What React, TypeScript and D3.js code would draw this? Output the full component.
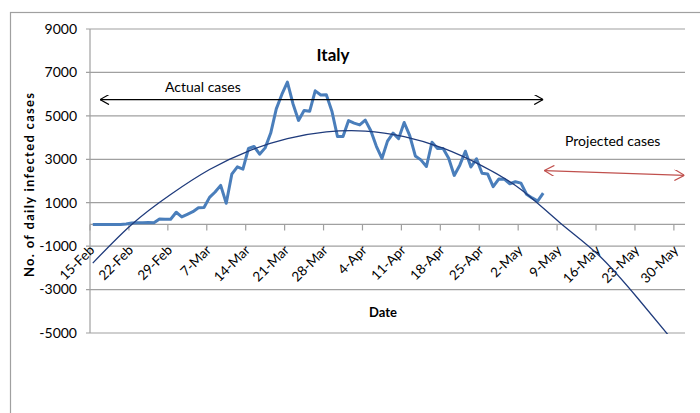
import * as d3 from "d3";

// daily new cases, Italy, from 15-Feb (one value per day)
const cases = [
  0, 0, 0, 0, 0, 0, 17, 62, 76, 72, 93, 78, 250, 238, 240,
  561, 347, 466, 587, 769, 778, 1247, 1492, 1797, 977, 2313, 2651, 2547, 3497, 3590,
  3233, 3526, 4207, 5322, 5986, 6557, 5560, 4789, 5249, 5210, 6153, 5959, 5974, 5217, 4050,
  4053, 4782, 4668, 4585, 4805, 4316, 3599, 3039, 3836, 4204, 3951, 4694, 4092, 3153, 2972,
  2667, 3786, 3493, 3491, 3047, 2256, 2729, 3370, 2646, 3021, 2357, 2324, 1739, 2091, 2086,
  1872, 1965, 1900, 1389, 1221, 1075, 1444,
];

// trend line (day index, value)
const trendDays = [0, 7, 14, 21, 28, 35, 42, 49, 56, 63, 70, 77, 84, 91, 98, 105];
const trendValues = [-1780, 0, 1380, 2530, 3380, 3950, 4260, 4300, 4040, 3510, 2700, 1610, 80, -1420, -3400, -5560];

const tickLabels = [
  "15-Feb", "22-Feb", "29-Feb", "7-Mar", "14-Mar", "21-Mar", "28-Mar", "4-Apr",
  "11-Apr", "18-Apr", "25-Apr", "2-May", "9-May", "16-May", "23-May", "30-May",
];
const yTicks = [9000, 7000, 5000, 3000, 1000, -1000, -3000, -5000];
const dayCount = 107;

const font = "Lato, 'Open Sans', sans-serif";

export default function App() {
  const left = 90, right = 685, top = 29, bottom = 333;
  const x = d3.scaleLinear().domain([0, dayCount]).range([left, right]);
  const y = d3.scaleLinear().domain([-5000, 9000]).range([bottom, top]);
  const mid = (d: number) => x(d + 0.5);

  const line = d3
    .line<number>()
    .x((_, i) => mid(i))
    .y((d) => y(d));

  const trend = d3
    .line<number>()
    .x((_, i) => mid(trendDays[i]))
    .y((d) => y(d))
    .curve(d3.curveNatural);

  const grey = "#a0a0a0";

  return (
    <svg width={700} height={413} style={{ position: "absolute", left: 0, top: 0, background: "#fff" }}>
      <defs>
        <marker id="arrBlack" viewBox="0 0 10 10" refX={10} refY={5} markerWidth={10} markerHeight={10}
          markerUnits="userSpaceOnUse" orient="auto-start-reverse">
          <path d="M1,0 L10,5 L1,10" fill="none" stroke="#000" strokeWidth={1.2} />
        </marker>
        <marker id="arrRed" viewBox="0 0 10 10" refX={10} refY={5} markerWidth={11} markerHeight={11}
          markerUnits="userSpaceOnUse" orient="auto-start-reverse">
          <path d="M1,0 L10,5 L1,10" fill="none" stroke="#c0504d" strokeWidth={1.1} />
        </marker>
        <clipPath id="plot">
          <rect x={left} y={top} width={right - left} height={bottom - top + 1} />
        </clipPath>
      </defs>

      {/* chart frame */}
      <rect x={10.5} y={12.5} width={720} height={420} fill="#fff" stroke={grey} strokeWidth={1.2} />

      {/* gridlines + y labels */}
      {yTicks.map((t) => (
        <g key={t}>
          <line x1={left - 4} x2={right} y1={y(t)} y2={y(t)} stroke={grey} strokeWidth={1.2} />
          <text x={77} y={y(t)} dy="0.35em" textAnchor="end" fontFamily={font} fontSize={14} fill="#000">
            {t}
          </text>
        </g>
      ))}
      <line x1={left} x2={left} y1={top} y2={bottom} stroke={grey} strokeWidth={1.2} />

      {/* x axis at zero */}
      <line x1={left} x2={right} y1={y(0)} y2={y(0)} stroke={grey} strokeWidth={1.2} />
      {tickLabels.map((lab, k) => {
        const tx = x(k * 7);
        const px = mid(k * 7) + 2.5;
        const py = 251;
        return (
          <g key={lab}>
            <line x1={tx} x2={tx} y1={y(0)} y2={y(0) + 6} stroke={grey} strokeWidth={1.2} />
            <text x={px} y={py} textAnchor="end" transform={`rotate(-45 ${px} ${py})`}
              fontFamily={font} fontSize={13.5} fill="#000">
              {lab}
            </text>
          </g>
        );
      })}

      {/* series */}
      <path d={line(cases) ?? ""} fill="none" stroke="#4a7ebb" strokeWidth={3} strokeLinejoin="round" />
      <path d={trend(trendValues) ?? ""} fill="none" stroke="#1f3b7c" strokeWidth={1.3} clipPath="url(#plot)" />

      {/* annotations */}
      <text x={333} y={61} textAnchor="middle" fontFamily={font} fontWeight="bold" fontSize={17}>Italy</text>
      <text x={165} y={92} fontFamily={font} fontSize={14}>Actual cases</text>
      <line x1={x(1.8)} x2={x(81.5)} y1={y(5750)} y2={y(5750)} stroke="#000" strokeWidth={1.2}
        markerStart="url(#arrBlack)" markerEnd="url(#arrBlack)" />
      <text x={565} y={146} fontFamily={font} fontSize={14}>Projected cases</text>
      <line x1={x(81.7)} x2={x(106.9)} y1={y(2480)} y2={y(2260)} stroke="#c0504d" strokeWidth={1.1}
        markerStart="url(#arrRed)" markerEnd="url(#arrRed)" />

      {/* axis titles */}
      <text x={383} y={317} textAnchor="middle" fontFamily={font} fontWeight="bold" fontSize={13}>Date</text>
      <text transform="translate(34,185) rotate(-90)" textAnchor="middle" fontFamily={font} fontWeight="bold"
        fontSize={13} textLength={184} lengthAdjust="spacing">
        No. of daily infected cases
      </text>
    </svg>
  );
}
